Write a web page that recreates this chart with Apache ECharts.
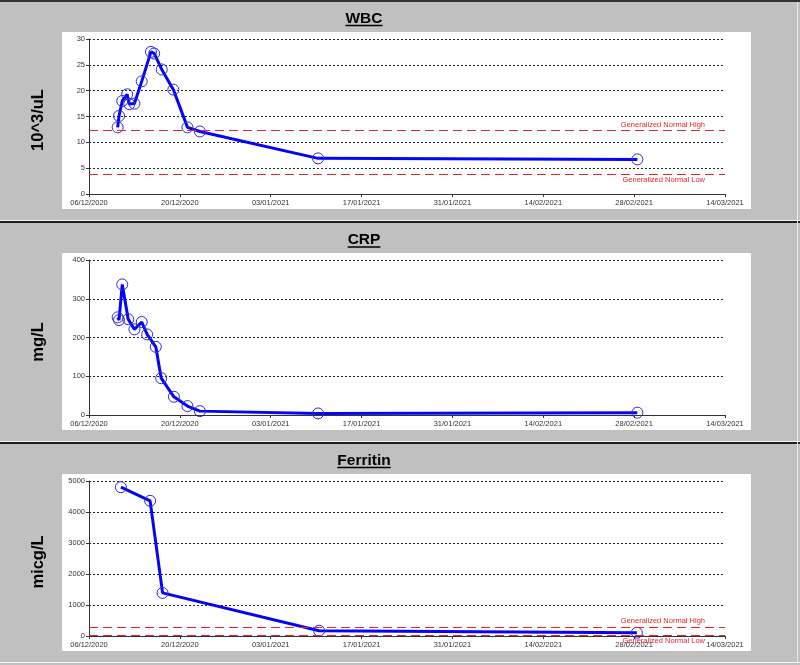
<!DOCTYPE html>
<html>
<head>
<meta charset="utf-8">
<script src="https://cdn.jsdelivr.net/npm/echarts@6/dist/echarts.min.js"></script>
<style>
  html, body { margin: 0; padding: 0; background: #c0c0c0; }
  #chart { width: 800px; height: 665px; }
</style>
</head>
<body>
<div id="chart"></div>
<script>
// --- data ---
const wbcDates = ['2020-12-10 10:00', '2020-12-10 15:00', '2020-12-11 03:00', '2020-12-11 21:00',
  '2020-12-12 05:00', '2020-12-13 00:00', '2020-12-14 03:00', '2020-12-15 13:00', '2020-12-16 01:00',
  '2020-12-17 05:00', '2020-12-19 00:00', '2020-12-21 04:00', '2020-12-23 02:00', '2021-01-10 07:00',
  '2021-02-28 12:00'];
const wbcValues = [12.9, 15.1, 18.0, 19.3, 17.4, 17.5, 21.8, 27.5, 27.2, 24.1, 20.2, 12.9, 12.1, 6.9, 6.7];

const crpDates = ['2020-12-10 10:00', '2020-12-10 15:00', '2020-12-11 03:00', '2020-12-12 01:00',
  '2020-12-13 00:00', '2020-12-14 03:00', '2020-12-14 23:00', '2020-12-16 07:00', '2020-12-17 03:00',
  '2020-12-19 02:00', '2020-12-21 04:00', '2020-12-23 02:00', '2021-01-10 07:00', '2021-02-28 12:00'];
const crpValues = [252, 245, 337, 247, 221, 240, 208, 176, 95, 47, 23, 10, 4, 6];

const ferritinDates = ['2020-12-10 22:00', '2020-12-15 10:00', '2020-12-17 08:00', '2021-01-10 11:00', '2021-02-28 10:00'];
const ferritinValues = [4800, 4360, 1390, 170, 105];

const wbcNormal = [12.3, 3.9];        // high, low
const ferritinNormal = [290, 40];     // high, low

const titles = ['WBC', 'CRP', 'Ferritin'];
const units = ['10^3/uL', 'mg/L', 'micg/L'];
const yMax = [30, 400, 5000];
const yStep = [5, 100, 1000];

// x axis runs 06/12/2020 .. 14/03/2021 in days, tick every 14 days
const DAY = 86400000;
const BASE = Date.UTC(2020, 11, 6);
const X_MAX = 98;
const X_STEP = 14;

function dayOf(s) {
  return (Date.parse(s.replace(' ', 'T') + ':00Z') - BASE) / DAY;
}
function pairs(dates, vals) {
  return dates.map((d, i) => [dayOf(d), vals[i]]);
}
function pad(n) { return (n < 10 ? '0' : '') + n; }
function fmtDay(v) {
  const d = new Date(BASE + v * DAY);
  return pad(d.getUTCDate()) + '/' + pad(d.getUTCMonth() + 1) + '/' + d.getUTCFullYear();
}

const FONT = 'Liberation Sans, Arial, sans-serif';
const RED = '#e3262e';
const BLUE = '#0505f5';

// panel layout
const panelTop = [0, 221, 442];
const gridTop = [39, 260, 481];
const titleY = [18.5, 240, 460.5];
const unitY = [120, 342, 562];

const measureCtx = document.createElement('canvas').getContext('2d');
measureCtx.font = 'bold 15.5px ' + FONT;

function normalLines(vals) {
  return {
    silent: true,
    symbol: 'none',
    lineStyle: { color: RED, type: [9, 5], width: 1.2 },
    label: { color: RED, fontSize: 7.5, fontFamily: FONT },
    data: [
      { yAxis: vals[0], label: { formatter: 'Generalized Normal High', position: 'insideEndTop', distance: [20, 2] } },
      { yAxis: vals[1], label: { formatter: 'Generalized Normal Low', position: 'insideEndBottom', distance: [20, 2] } }
    ]
  };
}

const seriesData = [pairs(wbcDates, wbcValues), pairs(crpDates, crpValues), pairs(ferritinDates, ferritinValues)];
const marks = [normalLines(wbcNormal), null, normalLines(ferritinNormal)];

const grids = [], xAxes = [], yAxes = [], series = [], graphics = [];

for (let i = 0; i < 3; i++) {
  grids.push({ left: 89, top: gridTop[i], width: 636, height: 155 });
  xAxes.push({
    type: 'value', gridIndex: i, min: 0, max: X_MAX, interval: X_STEP,
    axisLine: { lineStyle: { color: '#333', width: 1 } },
    axisTick: { show: true, length: 3, lineStyle: { color: '#333' } },
    axisLabel: { formatter: fmtDay, fontSize: 7.5, color: '#333', fontFamily: FONT, margin: 5 },
    splitLine: { show: false }
  });
  yAxes.push({
    type: 'value', gridIndex: i, min: 0, max: yMax[i], interval: yStep[i],
    axisLine: { show: true, lineStyle: { color: '#333', width: 1 } },
    axisTick: { show: true, length: 3, lineStyle: { color: '#333' } },
    axisLabel: { fontSize: 7.5, color: '#333', fontFamily: FONT, margin: 4, formatter: v => String(v) },
    splitLine: { show: true, lineStyle: { color: '#222', type: [2, 2], width: 1 } }
  });
  const s = {
    type: 'line', name: titles[i], xAxisIndex: i, yAxisIndex: i,
    data: seriesData[i],
    lineStyle: { color: BLUE, width: 3 },
    symbol: 'circle', symbolSize: 11, showAllSymbol: true,
    itemStyle: { color: 'rgba(0,0,0,0)', borderColor: '#2b2bd6', borderWidth: 1 },
    z: 3
  };
  if (marks[i]) s.markLine = marks[i];
  series.push(s);

  // white plot box
  graphics.push({
    type: 'rect', z: -10,
    shape: { x: 62, y: gridTop[i] - 7, width: 689, height: 177 },
    style: { fill: '#fff' }
  });
  // unit label, rotated
  graphics.push({
    type: 'text', z: 10, x: 38, y: unitY[i], rotation: Math.PI / 2,
    style: { text: units[i], font: 'bold 16.5px ' + FONT, fill: '#000', textAlign: 'center', textVerticalAlign: 'middle' }
  });
  // title with underline
  const w = measureCtx.measureText(titles[i]).width;
  graphics.push({
    type: 'text', z: 10, x: 364, y: titleY[i],
    style: { text: titles[i], font: 'bold 15.5px ' + FONT, fill: '#000', textAlign: 'center', textVerticalAlign: 'middle' }
  });
  graphics.push({
    type: 'line', z: 10,
    shape: { x1: 364 - w / 2, y1: titleY[i] + 7, x2: 364 + w / 2, y2: titleY[i] + 7 },
    style: { stroke: '#000', lineWidth: 1.5 }
  });
  // panel separator
  if (i > 0) {
    graphics.push({ type: 'line', z: 10, shape: { x1: 0, y1: panelTop[i] - 0.5, x2: 800, y2: panelTop[i] - 0.5 }, style: { stroke: '#f4f4f4', lineWidth: 1 } });
    graphics.push({ type: 'line', z: 10, shape: { x1: 0, y1: panelTop[i] + 1, x2: 800, y2: panelTop[i] + 1 }, style: { stroke: '#1e1e1e', lineWidth: 2 } });
  }
}
graphics.push({ type: 'line', z: 10, shape: { x1: 0, y1: 1, x2: 800, y2: 1 }, style: { stroke: '#333', lineWidth: 2 } });
graphics.push({ type: 'line', z: 10, shape: { x1: 0, y1: 662.5, x2: 800, y2: 662.5 }, style: { stroke: '#f4f4f4', lineWidth: 1 } });
graphics.push({ type: 'line', z: 10, shape: { x1: 797.5, y1: 2, x2: 797.5, y2: 662 }, style: { stroke: '#eeeeee', lineWidth: 1 } });

const chart = echarts.init(document.getElementById('chart'));
chart.setOption({
  backgroundColor: '#c0c0c0',
  animation: false,
  grid: grids,
  xAxis: xAxes,
  yAxis: yAxes,
  series: series,
  graphic: { elements: graphics }
});
</script>
</body>
</html>
